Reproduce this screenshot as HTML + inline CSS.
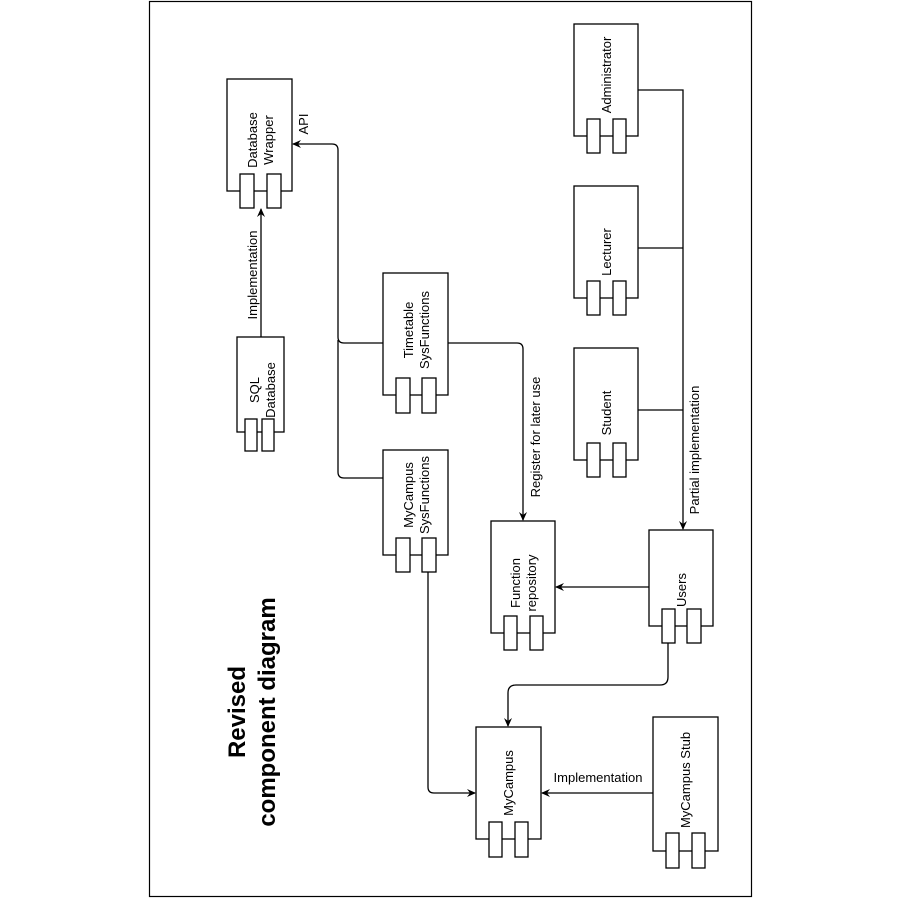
<!DOCTYPE html>
<html><head><meta charset="utf-8"><style>html,body{margin:0;padding:0;background:#fff}svg{display:block}text{font-family:"Liberation Sans",sans-serif;font-size:13px;fill:#000}</style></head><body>
<svg width="900" height="900" viewBox="0 0 900 900" xmlns="http://www.w3.org/2000/svg">
<defs><marker id="a" markerWidth="10" markerHeight="10" refX="8" refY="5" orient="auto" markerUnits="userSpaceOnUse"><path d="M0,1 L9,5 L0,9 L3,5 Z" fill="#000"/></marker></defs>
<rect x="149.5" y="1.5" width="602" height="895" fill="none" stroke="#000" stroke-width="1.2"/>
<g fill="#fff" stroke="#000" stroke-width="1.3">
<!-- DB Wrapper -->
<rect x="227" y="79" width="65" height="112"/><rect x="240" y="174" width="14" height="34"/><rect x="267" y="174" width="14" height="34"/>
<!-- SQL -->
<rect x="237" y="337" width="47" height="95"/><rect x="245" y="419" width="12" height="32"/><rect x="262" y="419" width="12" height="32"/>
<!-- Timetable -->
<rect x="383" y="273" width="65" height="122"/><rect x="396" y="378" width="14" height="35"/><rect x="422" y="378" width="14" height="35"/>
<!-- MyCampus Sys -->
<rect x="383" y="450" width="65" height="105"/><rect x="396" y="538" width="14" height="34"/><rect x="422" y="538" width="14" height="34"/>
<!-- Function repo -->
<rect x="491" y="521" width="64" height="112"/><rect x="504" y="616" width="13" height="34"/><rect x="530" y="616" width="13" height="34"/>
<!-- Users -->
<rect x="649" y="530" width="64" height="96"/><rect x="662" y="609" width="13" height="34"/><rect x="687" y="609" width="14" height="34"/>
<!-- MyCampus -->
<rect x="476" y="727" width="65" height="112"/><rect x="489" y="822" width="13" height="35"/><rect x="515" y="822" width="13" height="35"/>
<!-- Stub -->
<rect x="653" y="717" width="65" height="134"/><rect x="666" y="833" width="13" height="35"/><rect x="692" y="833" width="13" height="35"/>
<!-- Admin/Lecturer/Student -->
<rect x="574" y="24" width="64" height="112"/><rect x="587" y="119" width="13" height="34"/><rect x="613" y="119" width="13" height="34"/>
<rect x="574" y="186" width="64" height="112"/><rect x="587" y="281" width="13" height="34"/><rect x="613" y="281" width="13" height="34"/>
<rect x="574" y="348" width="64" height="112"/><rect x="587" y="443" width="13" height="34"/><rect x="613" y="443" width="13" height="34"/>
</g>
<g fill="none" stroke="#000" stroke-width="1.3">
<path d="M261,337 V209" marker-end="url(#a)"/>
<path d="M383,343 H344 Q338,343 338,337 V150 Q338,144 332,144 H293" marker-end="url(#a)"/>
<path d="M383,478 H344 Q338,478 338,472 V340"/>
<path d="M448,343 H517 Q523,343 523,349 V520" marker-end="url(#a)"/>
<path d="M638,90 H683 V529" marker-end="url(#a)"/>
<path d="M638,248 H683 M638,410 H683"/>
<path d="M649,587 H556" marker-end="url(#a)"/>
<path d="M668,643 V677 Q668,685 660,685 H516 Q508,685 508,693 V726" marker-end="url(#a)"/>
<path d="M428,572 V787 Q428,793 434,793 H475" marker-end="url(#a)"/>
<path d="M653,793 H542" marker-end="url(#a)"/>
</g>
<g text-anchor="middle">
<text transform="translate(260,140) rotate(-90)"><tspan x="0" y="-3">Database</tspan><tspan x="0" y="13">Wrapper</tspan></text>
<text transform="translate(262,390) rotate(-90)"><tspan x="0" y="-3">SQL</tspan><tspan x="0" y="13">Database</tspan></text>
<text transform="translate(416,330) rotate(-90)"><tspan x="0" y="-3">Timetable</tspan><tspan x="0" y="13">SysFunctions</tspan></text>
<text transform="translate(416,495) rotate(-90)"><tspan x="0" y="-3">MyCampus</tspan><tspan x="0" y="13">SysFunctions</tspan></text>
<text transform="translate(523,583) rotate(-90)"><tspan x="0" y="-3">Function</tspan><tspan x="0" y="13">repository</tspan></text>
<text transform="translate(686,590) rotate(-90)">Users</text>
<text transform="translate(513,783) rotate(-90)">MyCampus</text>
<text transform="translate(690,780) rotate(-90)">MyCampus Stub</text>
<text transform="translate(611,75) rotate(-90)">Administrator</text>
<text transform="translate(611,252) rotate(-90)">Lecturer</text>
<text transform="translate(611,413) rotate(-90)">Student</text>
<text transform="translate(257,275) rotate(-90)">Implementation</text>
<text transform="translate(308,124) rotate(-90)">API</text>
<text transform="translate(540,437) rotate(-90)">Register for later use</text>
<text transform="translate(699,450) rotate(-90)">Partial implementation</text>
<text x="598" y="782">Implementation</text>
<text transform="translate(245,712) rotate(-90)" style="font-size:24px;font-weight:bold"><tspan x="0" y="0">Revised</tspan><tspan x="0" y="30">component diagram</tspan></text>
</g>
</svg>
</body></html>
